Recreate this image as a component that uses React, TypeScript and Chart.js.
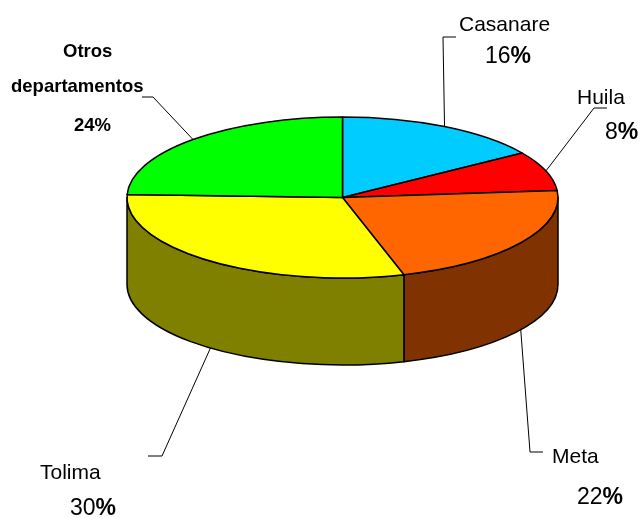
import React, { useEffect, useRef } from "react";
import { Chart, registerables } from "chart.js";

Chart.register(...registerables);

// ---- data ----
const categories = ["Casanare", "Huila", "Meta", "Tolima", "Otros departamentos"];
const shares = [15.7, 7.9, 21.8, 30.2, 24.4];

// ---- styles ----
const topColors = ["#00CCFF", "#FF0000", "#FF6600", "#FFFF00", "#00FF00"];
const sideColors = ["#006680", "#800000", "#803300", "#808000", "#008000"];

// ---- layout ----
const W = 641;
const H = 518;
const CENTER_Y = 197.5;
const RADIUS = 215.5;
const TILT = 80.5 / 215.5;
const DEPTH = 87;

type LabelLayout = {
  bold: boolean;
  nameLines: string[];
  namePos: [number, number][];
  pctPos: [number, number];
  elbow: [number, number];
  tickEnd: number;
};

const labelLayout: LabelLayout[] = [
  { bold: false, nameLines: ["Casanare"], namePos: [[459, 31]], pctPos: [485, 63], elbow: [443, 37], tickEnd: 456 },
  { bold: false, nameLines: ["Huila"], namePos: [[577, 104]], pctPos: [605, 139], elbow: [594, 108], tickEnd: 607 },
  { bold: false, nameLines: ["Meta"], namePos: [[552, 463]], pctPos: [577, 504], elbow: [530, 452], tickEnd: 543 },
  { bold: false, nameLines: ["Tolima"], namePos: [[40, 479]], pctPos: [70, 515], elbow: [162, 456], tickEnd: 148 },
  { bold: true, nameLines: ["Otros", "departamentos"], namePos: [[63, 57], [11, 92]], pctPos: [74, 131], elbow: [153, 97], tickEnd: 142 },
];

const FONT_FAMILY = '"Liberation Sans", Arial, sans-serif';

const pie3dPlugin = {
  id: "pie3d",
  beforeDatasetsDraw(chart: any) {
    const ctx: CanvasRenderingContext2D = chart.ctx;
    const meta = chart.getDatasetMeta(0);
    const arcs: any[] = meta.data;
    if (!arcs.length) return false;
    const cx = arcs[0].x;
    const rx = arcs[0].outerRadius;
    const ry = rx * TILT;
    const cy = CENTER_Y;
    const data: number[] = chart.data.datasets[0].data;
    const total = data.reduce((a, b) => a + b, 0);

    ctx.save();
    ctx.lineWidth = 1.5;
    ctx.strokeStyle = "#000";
    ctx.lineJoin = "round";

    // side walls (front half: canvas angles 0..PI)
    arcs.forEach((arc, i) => {
      const a0 = Math.max(arc.startAngle, 0);
      const a1 = Math.min(arc.endAngle, Math.PI);
      if (a1 <= a0) return;
      ctx.beginPath();
      ctx.ellipse(cx, cy, rx, ry, 0, a0, a1, false);
      ctx.lineTo(cx + rx * Math.cos(a1), cy + DEPTH + ry * Math.sin(a1));
      ctx.ellipse(cx, cy + DEPTH, rx, ry, 0, a1, a0, true);
      ctx.closePath();
      ctx.fillStyle = sideColors[i];
      ctx.fill();
      ctx.stroke();
    });

    // top face
    arcs.forEach((arc, i) => {
      ctx.beginPath();
      ctx.moveTo(cx, cy);
      ctx.ellipse(cx, cy, rx, ry, 0, arc.startAngle, arc.endAngle, false);
      ctx.closePath();
      ctx.fillStyle = topColors[i];
      ctx.fill();
      ctx.stroke();
    });

    // leader lines + labels
    ctx.lineWidth = 1;
    arcs.forEach((arc, i) => {
      const L = labelLayout[i];
      const mid = (arc.startAngle + arc.endAngle) / 2;
      const ax = cx + rx * Math.cos(mid);
      const front = Math.sin(mid) > 0;
      const ay = cy + ry * Math.sin(mid) + (front ? DEPTH : 0);
      ctx.beginPath();
      ctx.moveTo(ax, ay);
      ctx.lineTo(L.elbow[0], L.elbow[1]);
      ctx.lineTo(L.tickEnd, L.elbow[1]);
      ctx.strokeStyle = "#000";
      ctx.stroke();

      ctx.fillStyle = "#000";
      ctx.textAlign = "left";
      ctx.textBaseline = "alphabetic";
      const nameFont = L.bold ? `bold 18.5px ${FONT_FAMILY}` : `21px ${FONT_FAMILY}`;
      ctx.font = nameFont;
      L.nameLines.forEach((t, k) => {
        ctx.fillText(t, L.namePos[k][0], L.namePos[k][1]);
      });
      const pct = Math.round((data[i] / total) * 100);
      const digits = String(pct);
      if (L.bold) {
        ctx.font = `bold 18.5px ${FONT_FAMILY}`;
        ctx.fillText(digits + "%", L.pctPos[0], L.pctPos[1]);
      } else {
        ctx.font = `23px ${FONT_FAMILY}`;
        ctx.fillText(digits, L.pctPos[0], L.pctPos[1]);
        const w = ctx.measureText(digits).width;
        ctx.font = `bold 23px ${FONT_FAMILY}`;
        ctx.fillText("%", L.pctPos[0] + w, L.pctPos[1]);
      }
    });

    ctx.restore();
    return false;
  },
};

export default function App() {
  const ref = useRef<HTMLCanvasElement | null>(null);
  useEffect(() => {
    if (!ref.current) return;
    const chart = new Chart(ref.current, {
      type: "pie",
      data: {
        labels: categories,
        datasets: [
          {
            data: shares,
            backgroundColor: topColors,
            borderColor: "#000",
            borderWidth: 1,
          },
        ],
      },
      options: {
        responsive: false,
        animation: false,
        events: [],
        radius: RADIUS,
        layout: { padding: { left: 127, right: 83, top: 0, bottom: 0 } },
        plugins: {
          legend: { display: false },
          tooltip: { enabled: false },
        },
      } as any,
      plugins: [pie3dPlugin],
    });
    return () => chart.destroy();
  }, []);
  return (
    <div style={{ position: "fixed", left: 0, top: 0, width: W, height: H, background: "#fff" }}>
      <canvas ref={ref} width={W} height={H} style={{ width: W, height: H, display: "block" }} />
    </div>
  );
}
